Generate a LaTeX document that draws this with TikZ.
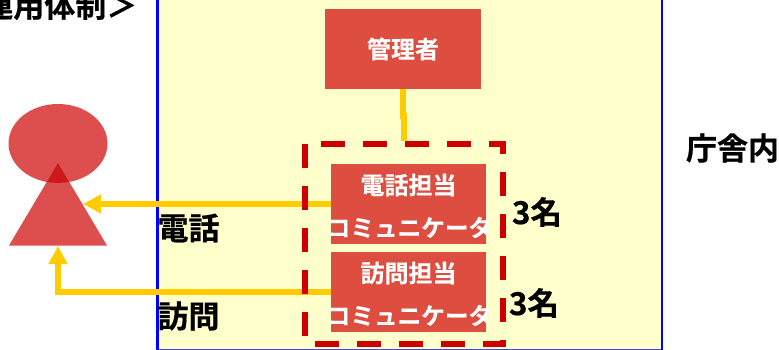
\documentclass[tikz,border=0pt]{standalone}
\usepackage{fontspec}
\usetikzlibrary{arrows.meta,shapes.geometric}
\newfontfamily\jpb{Noto Sans CJK JP Bold}[FakeBold=0.5]
\newfontfamily\jpw{Noto Sans CJK JP Bold}[FakeBold=0.2]
\definecolor{boxred}{RGB}{221,78,64}
\definecolor{figred}{RGB}{221,78,78}
\definecolor{overlapred}{RGB}{205,25,25}
\definecolor{paleyellow}{RGB}{255,255,204}
\definecolor{arrowgold}{RGB}{255,204,0}
\definecolor{dashred}{RGB}{204,0,0}
\definecolor{frameblue}{RGB}{0,0,255}
\definecolor{frameblueb}{RGB}{70,70,225}
\tikzset{
  x=1pt,y=-1pt,
  staffbox/.style={fill=boxred,draw=none,inner sep=0pt,minimum width=155pt,minimum height=80pt},
  manager/.style={staffbox,minimum width=156pt,text=white,font=\jpw\fontsize{24}{24}\selectfont},
  whitelabel/.style={inner sep=0pt,text=white,font=\jpw\fontsize{24}{24}\selectfont},
  whitelong/.style={inner sep=0pt,text=white,font=\jpw\fontsize{23.6}{24}\selectfont},
  staffline/.style={draw=arrowgold,line width=6pt},
  staffarrow/.style={draw=arrowgold,line width=6pt,-{Triangle[length=18pt,width=18pt]}},
  biglabel/.style={inner sep=0pt,font=\jpb\fontsize{31}{31}\selectfont,text=black},
  countlabel/.style={biglabel,font=\jpb\fontsize{31.5}{31.5}\selectfont},
}
\begin{document}
\begin{tikzpicture}
\useasboundingbox (0,0) rectangle (779,350);
\clip (0,0) rectangle (779,350);
\fill[paleyellow] (157,-10) rectangle (662,348.5);
\draw[frameblueb,line width=1.2pt] (157,349.2) -- (662,349.2);
\draw[frameblue,line width=2.8pt] (157.3,-10) -- (157.3,350);
\draw[frameblue,line width=2.8pt] (662,-10) -- (662,350);
\node[manager] (mgr) at (403,49) {\raisebox{-2.5pt}{管理者}};
\node[staffbox] (tel) at (408.5,204) {};
\node[staffbox] (vis) at (408.5,292) {};
\node[whitelabel] (t1) at (408.5,185) {電話担当};
\node[whitelabel] (t2) at (408.5,273) {訪問担当};
\node[whitelong] (c1) at (409.5,227.5) {コミュニケータ};
\node[whitelong] (c2) at (409.5,315.5) {コミュニケータ};
\fill[figred] (58,143.5) ellipse (49.5pt and 39.5pt);
\fill[figred] (58,163) -- (107,245.5) -- (9,245.5) -- cycle;
\fill[overlapred] (58,163) -- (69,182) .. controls (62,183.2) and (54,183.2) .. (47,182) -- cycle;
\coordinate (telin) at (83,204);
\coordinate (visin) at (58,246);
\coordinate (visbend) at (58,292);
\coordinate (jog) at (403,119);
\coordinate (jogb) at (404,113);
\coordinate (groupin) at (404,141);
\draw[staffarrow] (tel.west) -- (telin);
\draw[staffarrow] (vis.west) -- (visbend) -- (visin);
\draw[staffline] (403,89) -- (jog);
\draw[staffline] (jogb) -- (groupin);
\draw[dashred,line width=6pt,dash pattern=on 24pt off 18pt] (305,144) -- (305,344) -- (503,344) -- (503,144) -- (305,144);
\node[biglabel] (l1) at (188.5,228) {電話};
\node[biglabel] (l2) at (188.5,316) {訪問};
\node[biglabel,anchor=east] (h) at (137.5,5.5) {運用体制＞};
\node[biglabel] (o) at (732.5,148) {庁舎内};
\node[countlabel] (n1) at (537,212) {3名};
\node[countlabel] (n2) at (534,303) {3名};
\end{tikzpicture}
\end{document}
